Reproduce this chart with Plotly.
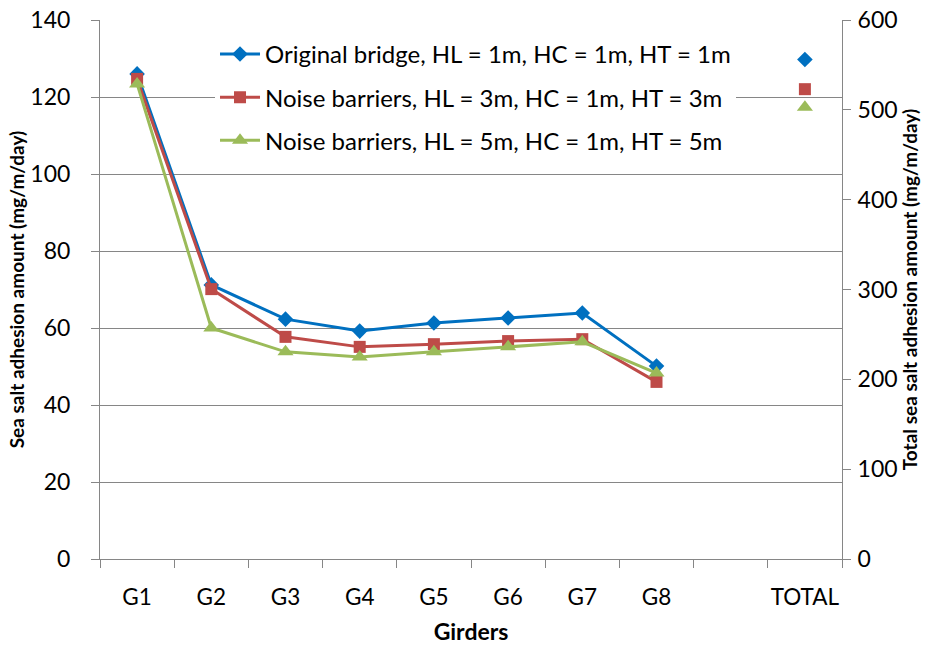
import plotly.graph_objects as go

categories = ["G1", "G2", "G3", "G4", "G5", "G6", "G7", "G8", " ", "TOTAL"]
girders = categories[:8]

series_names = [
    "Original bridge, HL = 1m, HC = 1m, HT = 1m",
    "Noise barriers, HL = 3m, HC = 1m, HT = 3m",
    "Noise barriers, HL = 5m, HC = 1m, HT = 5m",
]
original = [126.0, 71.2, 62.3, 59.2, 61.3, 62.6, 63.9, 50.1]
barrier_3m = [124.7, 70.1, 57.7, 55.1, 55.8, 56.6, 57.1, 46.0]
barrier_5m = [123.4, 60.0, 53.8, 52.5, 53.8, 55.1, 56.4, 48.3]
totals = [556, 523, 503]

colors = ["#0070C0", "#BE4B48", "#9BBB59"]
symbols = ["diamond", "square", "triangle-up"]
sizes = [12, 12, 14]

font = "Lato, Open Sans, sans-serif"

fig = go.Figure()
for i, (name, vals, c, s, sz) in enumerate(zip(series_names, [original, barrier_3m, barrier_5m], colors, symbols, sizes)):
    fig.add_trace(go.Scatter(
        x=girders, y=vals, name=name, mode="lines+markers",
        line=dict(color=c, width=3),
        marker=dict(symbol=s, size=sz, color=c),
        yaxis="y", legendgroup=f"g{i}",
    ))

for i, (name, tot, c, s, sz) in enumerate(zip(series_names, totals, colors, symbols, sizes)):
    fig.add_trace(go.Scatter(
        x=["TOTAL"], y=[tot], name=name, mode="markers",
        marker=dict(symbol=s, size=sz, color=c),
        yaxis="y2", showlegend=False, legendgroup=f"g{i}",
    ))

axis_color = "#868686"
fig.update_layout(
    width=929, height=647,
    margin=dict(l=100, r=87, t=20, b=88),
    paper_bgcolor="white", plot_bgcolor="white",
    font=dict(family=font, size=24, color="black"),
    xaxis=dict(
        type="category", categoryorder="array", categoryarray=categories,
        range=[-0.5, 9.5], tickson="boundaries", ticks="outside", ticklen=8,
        tickcolor=axis_color, showline=True, linecolor=axis_color, linewidth=1,
        showgrid=False, ticklabelstandoff=18, automargin=False, tickangle=0,
        tickfont=dict(size=22.5),
        title=dict(text="<b>Girders</b>", font=dict(size=23), standoff=14),
    ),
    yaxis=dict(
        range=[0, 140], dtick=20, ticks="outside", ticklen=8, tickcolor=axis_color,
        showline=True, linecolor=axis_color, linewidth=1,
        showgrid=True, gridcolor=axis_color, gridwidth=1, zeroline=False,
        ticklabelstandoff=16, automargin=False, tickfont=dict(size=23),
        title=dict(text="<b>Sea salt adhesion amount (mg/m/day)</b>", font=dict(size=19), standoff=0),
    ),
    yaxis2=dict(
        range=[0, 600], dtick=100, overlaying="y", side="right",
        ticks="outside", ticklen=8, tickcolor=axis_color,
        showline=True, linecolor=axis_color, linewidth=1,
        showgrid=False, zeroline=False, automargin=False, tickfont=dict(size=23),
        ticklabelstandoff=2,
        title=dict(text="<b>Total sea salt adhesion amount (mg/m/day)</b>", font=dict(size=19), standoff=6),
    ),
    legend=dict(
        x=0.155, y=0.978, xanchor="left", yanchor="top",
        bgcolor="white", borderwidth=0, font=dict(size=24),
        traceorder="grouped", tracegroupgap=9, itemwidth=40,
    ),
    showlegend=True,
)

fig.write_html("out.html")
